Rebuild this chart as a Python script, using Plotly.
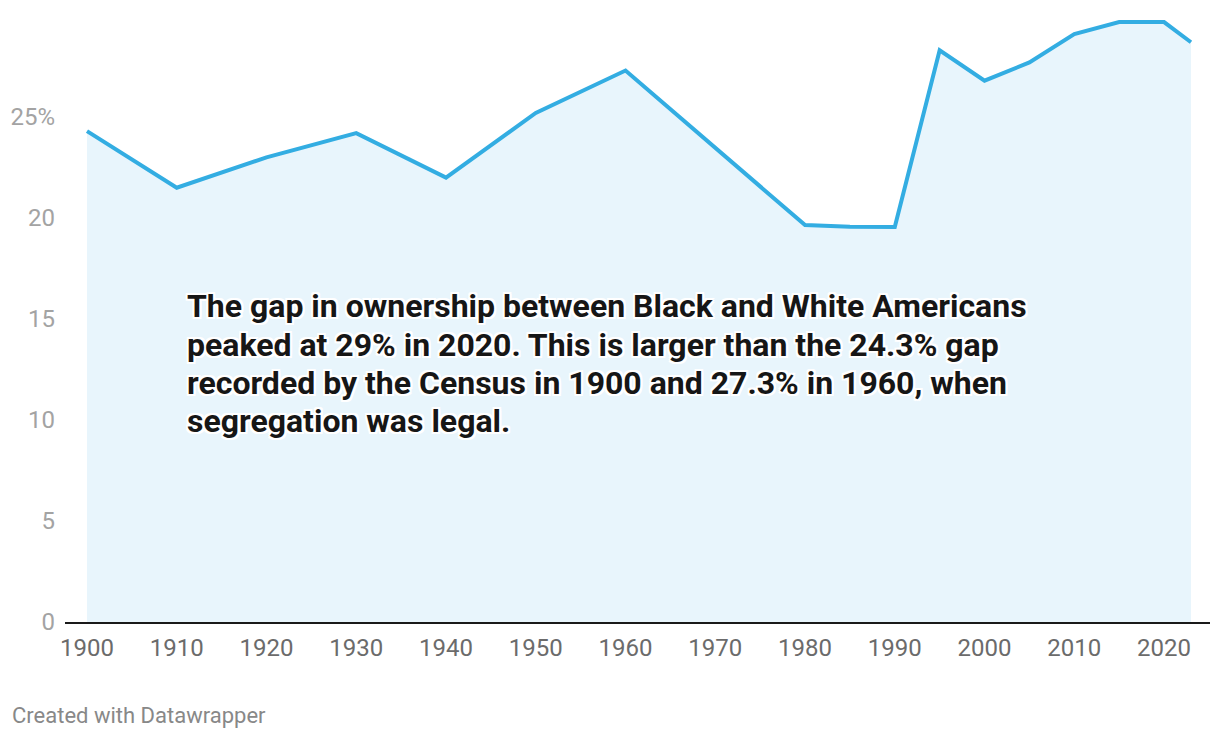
import plotly.graph_objects as go

years = [1900, 1910, 1920, 1930, 1940, 1950, 1960, 1970, 1980, 1985, 1990,
         1995, 2000, 2005, 2010, 2015, 2020, 2023]
gap = [24.3, 21.5, 23.0, 24.2, 22.0, 25.2, 27.3, 23.5, 19.65, 19.57, 19.55,
       28.3, 26.8, 27.7, 29.1, 29.7, 29.7, 28.7]

y_ticks = [0, 5, 10, 15, 20, 25]
y_tick_labels = ["0", "5", "10", "15", "20", "25%"]
x_ticks = list(range(1900, 2021, 10))

note_lines = [
    "The gap in ownership between Black and White Americans",
    "peaked at 29% in 2020. This is larger than the 24.3% gap",
    "recorded by the Census in 1900 and 27.3% in 1960, when",
    "segregation was legal.",
]

fig = go.Figure()
fig.add_trace(go.Scatter(
    x=years, y=gap, mode="lines",
    line=dict(color="#33ade2", width=4),
    fill="tozeroy", fillcolor="#e8f5fc",
    hoverinfo="skip",
))

halo = ("-2px -2px 0 #fff, 2px -2px 0 #fff, -2px 2px 0 #fff, 2px 2px 0 #fff,"
        " 0 2px 0 #fff, 0 -2px 0 #fff, 2px 0 0 #fff, -2px 0 0 #fff")
line_centers_px = [306, 345, 383, 421]
for txt, c in zip(note_lines, line_centers_px):
    fig.add_annotation(
        x=(185 - 65) / 1145, y=(622 - c) / 606, xref="paper", yref="paper",
        text="<b>" + txt + "</b>",
        showarrow=False, xanchor="left", yanchor="middle", align="left",
        font=dict(family="Roboto", size=32, color="#161616", shadow=halo),
    )

fig.add_annotation(
    x=(10 - 65) / 1145, y=(622 - 715) / 606, xref="paper", yref="paper",
    text="Created with Datawrapper",
    showarrow=False, xanchor="left", yanchor="middle",
    font=dict(family="Roboto", size=22, color="#888888"),
)

fig.update_layout(
    width=1220, height=738,
    margin=dict(l=65, r=10, t=16, b=116),
    paper_bgcolor="white", plot_bgcolor="white",
    showlegend=False,
    font=dict(family="Roboto"),
    xaxis=dict(
        range=[1897.55, 2025.12], tickvals=x_ticks,
        showgrid=False, zeroline=False,
        showline=True, linecolor="#1a1a1a", linewidth=2,
        ticks="", tickfont=dict(size=24, color="#6b6b6b"),
        ticklabelstandoff=3,
        fixedrange=True,
    ),
    yaxis=dict(
        range=[0, 30], tickvals=y_ticks, ticktext=y_tick_labels,
        showgrid=False, zeroline=False, showline=False,
        ticks="", tickfont=dict(size=24, color="#a3a3a3"),
        ticklabelstandoff=9,
        fixedrange=True,
    ),
)

fig.write_html("out.html", config={"displayModeBar": False},
               post_script="document.body.style.margin='0';")
